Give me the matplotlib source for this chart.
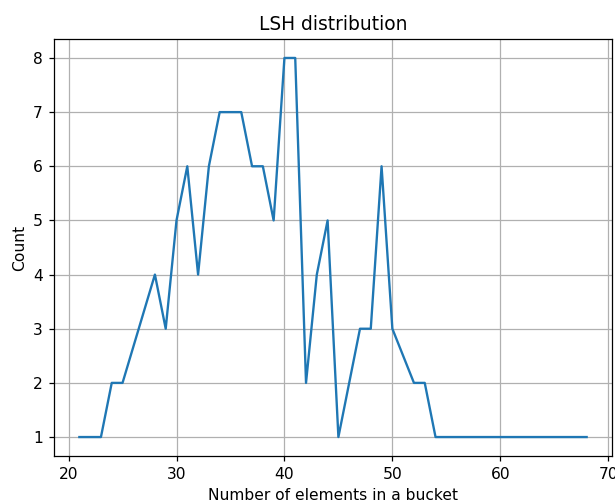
import matplotlib
matplotlib.use("Agg")
import matplotlib.pyplot as plt

# bucket sizes and how many buckets have that size
bucket_size = [21, 23, 24, 25, 28, 29, 30, 31, 32, 33, 34, 36, 37, 38, 39,
               40, 41, 42, 43, 44, 45, 47, 48, 49, 50, 52, 53, 54, 68]
count = [1, 1, 2, 2, 4, 3, 5, 6, 4, 6, 7, 7, 6, 6, 5,
         8, 8, 2, 4, 5, 1, 3, 3, 6, 3, 2, 2, 1, 1]

DPI = 112
fig = plt.figure(figsize=(615 / DPI, 504 / DPI), dpi=DPI)
ax = fig.add_axes([54 / 615, 1 - 456 / 504, 558 / 615, 417 / 504])

ax.plot(bucket_size, count)
ax.grid(True)

ax.set_title("LSH distribution")
ax.set_xlabel("Number of elements in a bucket")
ax.set_ylabel("Count")

fig.savefig("out.png", dpi=DPI)
